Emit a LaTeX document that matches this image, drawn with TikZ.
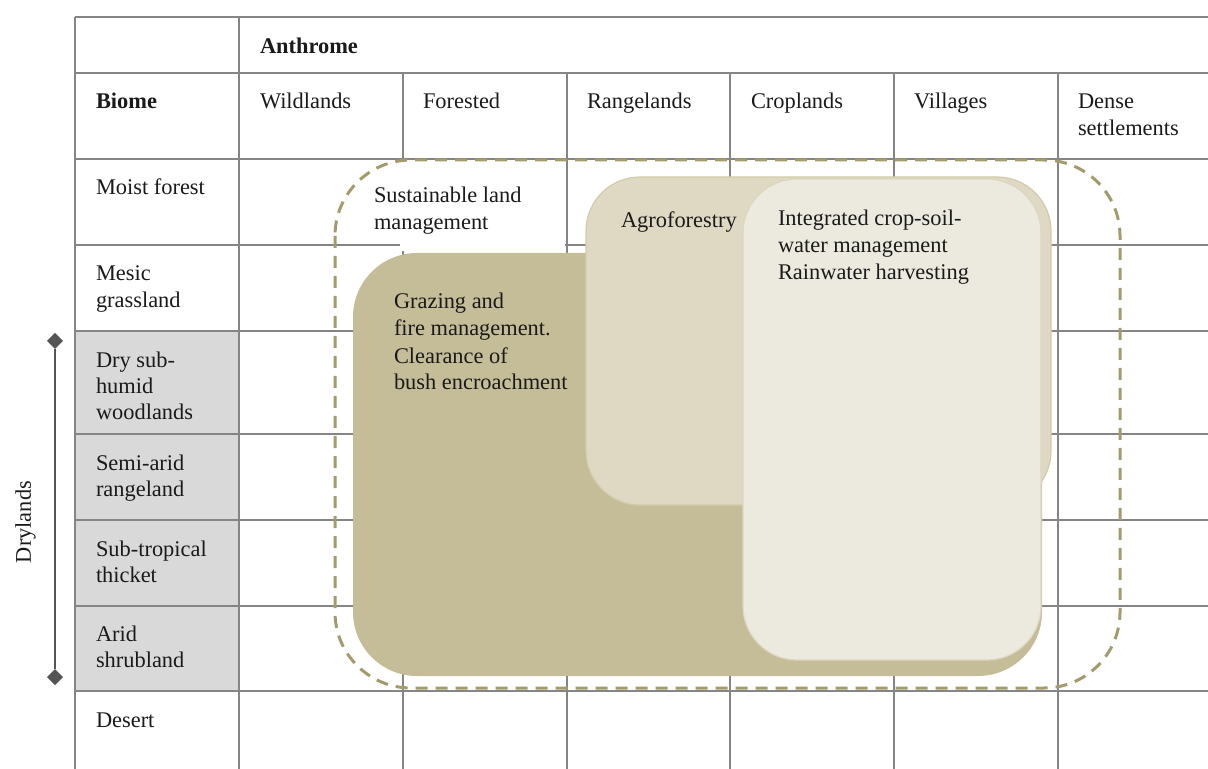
\documentclass[tikz,border=0pt]{standalone}
\usepackage{fontspec}
\setmainfont{Liberation Serif}
\usetikzlibrary{shapes.geometric}

\definecolor{gridline}{HTML}{858585}
\definecolor{dryfill}{HTML}{D9D9D9}
\definecolor{dashc}{HTML}{A39C6A}
\definecolor{tandark}{HTML}{C4BD98}
\definecolor{tanmid}{HTML}{DFD9C3}
\definecolor{tanmidedge}{HTML}{D2CBAA}
\definecolor{tanlight}{HTML}{ECEADF}
\definecolor{tanlightedge}{HTML}{DCD7C0}
\definecolor{brk}{HTML}{555555}
\definecolor{textc}{HTML}{1A1A1A}

\begin{document}
\begin{tikzpicture}[x=0.5pt,y=-0.5pt,
  every node/.style={inner sep=0pt, outer sep=0pt, text=textc,
    font=\fontsize{11.2}{13.2}\selectfont},
  % multi-line labels are placed by the baseline of their last line
  lbl/.style={anchor=base west, align=left},
  gridrule/.style={draw=gridline, line width=0.65pt},
  zone/.style={draw=dashc, line width=1.5pt, dash pattern=on 6pt off 4pt,
    rounded corners=38pt},
  enddiamond/.style={diamond, fill=brk, minimum width=8pt, minimum height=8pt}]
\useasboundingbox (0,0) rectangle (1208,769);

% shaded dryland biome cells
\fill[dryfill] (75,331) rectangle (239,691);

% table rules
\foreach \yy in {17,73,159,245,331,434,520,606,691}
  \draw[gridrule] (75,\yy) -- (1208,\yy);
\foreach \xx in {75,239}
  \draw[gridrule] (\xx,17) -- (\xx,769);
\foreach \xx in {403,567,730,894,1058}
  \draw[gridrule] (\xx,73) -- (\xx,769);

% header texts
\node[lbl, font=\fontsize{11.2}{13.2}\selectfont\bfseries] (anthrome) at (260,54) {Anthrome};
\node[lbl, font=\fontsize{11.2}{13.2}\selectfont\bfseries] (biome) at (96,109) {Biome};
\node[lbl] (wild) at (260,109) {Wildlands};
\node[lbl] (forested) at (423,109) {Forested};
\node[lbl] (range) at (587,109) {Rangelands};
\node[lbl] (crop) at (751,109) {Croplands};
\node[lbl] (vill) at (914,109) {Villages};
\node[lbl] (dense) at (1078,135.4) {Dense\\settlements};

% biome rows
\node[lbl] (moist) at (96,195) {Moist forest};
\node[lbl] (mesic) at (96,307.4) {Mesic\\grassland};
\node[lbl] (drysub) at (96,419.8) {Dry sub-\\humid\\woodlands};
\node[lbl] (semiarid) at (96,496.4) {Semi-arid\\rangeland};
\node[lbl] (subtrop) at (96,582.4) {Sub-tropical\\thicket};
\node[lbl] (arid) at (96,667.4) {Arid\\shrubland};
\node[lbl] (desert) at (96,727) {Desert};

% drylands bracket
\node[enddiamond] (dtop) at (55,341) {};
\node[enddiamond] (dbot) at (55,677) {};
\draw[brk, line width=0.8pt] (dtop) -- (dbot);
\node[rotate=90, anchor=base] (drylands) at (31,522) {Drylands};

% sustainable land management zone (its label sits on a white patch)
\fill[white] (400,162) rectangle (565,251);
\draw[zone] (335,160) rectangle (1120,688);
\node[lbl] (slm) at (374,229.4) {Sustainable land\\management};

% grazing / fire management
\fill[tandark, rounded corners=32pt] (353,253) rectangle (1042,676);
\node[lbl] (grazing) at (394,390) {Grazing and\\fire management.\\[1pt]Clearance of\\bush encroachment};

% agroforestry
\filldraw[fill=tanmid, draw=tanmidedge, line width=0.6pt, rounded corners=27pt]
  (586,177) rectangle (1051,505);
\node[lbl] (agro) at (621,228) {Agroforestry};

% integrated crop-soil-water management
\filldraw[fill=tanlight, draw=tanlightedge, line width=0.6pt, rounded corners=27pt]
  (743,179) rectangle (1041,660);
\node[lbl, font=\fontsize{11.2}{13.5}\selectfont] (icswm) at (778,280)
  {Integrated crop-soil-\\water management\\Rainwater harvesting};
\end{tikzpicture}
\end{document}
